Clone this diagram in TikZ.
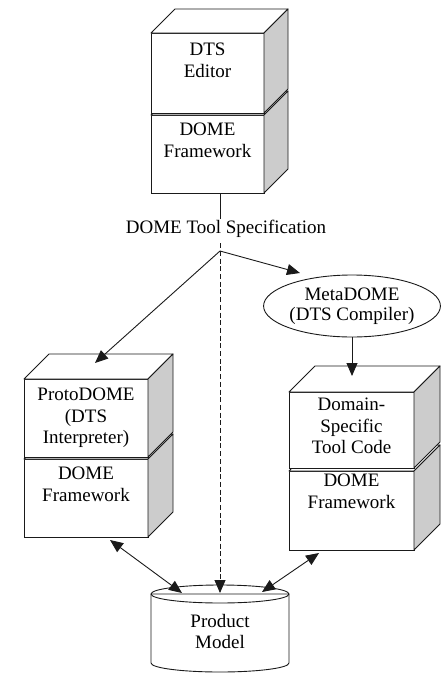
\documentclass[tikz,border=0pt]{standalone}
\usepackage{fontspec}
\setmainfont{Liberation Serif}
\usetikzlibrary{arrows.meta,shapes.geometric,calc}
\definecolor{sidegray}{HTML}{CCCCCC}
\definecolor{ink}{HTML}{1A1A1A}
\tikzset{
  face/.style={draw=ink, fill=white, inner sep=0pt, outer sep=0pt, line width=0.9pt},
  facepoly/.style={draw=ink, line width=0.9pt, line join=round},
  boxtext/.style={align=center, anchor=north, inner sep=0pt, font=\fontsize{19}{21.5}\selectfont},
  conn/.style={draw=ink, line width=0.9pt},
  tip/.style={-{Triangle[length=13pt,width=11pt]}},
  dtip/.style={{Triangle[length=13pt,width=11pt]}-{Triangle[length=13pt,width=11pt]}},
}
% #1 name, #2 x1, #3 y1, #4 x2, #5 y2, #6 depth
\newcommand\mkcube[6]{%
  \node[face, minimum width={(#4-#2)*1pt}, minimum height={(#5-#3)*1pt}] (#1) at ({(#2+#4)/2},{(#3+#5)/2}) {};
  \filldraw[facepoly, fill=white] (#1.north west) -- ++(#6,-#6) -- ($(#1.north east)+(#6,-#6)$) -- (#1.north east) -- cycle;
  \filldraw[facepoly, fill=sidegray] (#1.north east) -- ++(#6,-#6) -- ($(#1.south east)+(#6,-#6)$) -- (#1.south east) -- cycle;
}
\begin{document}
\begin{tikzpicture}[x=1pt, y=-1pt]
\useasboundingbox (0,0) rectangle (441,673);
% top stack
\mkcube{tfw}{151}{115}{264}{193}{24}
\mkcube{ted}{151}{33}{264}{113}{24}
\node[boxtext] (tedT) at (207.5,43) {DTS\\Editor};
\node[boxtext] (tfwT) at (207.5,123) {DOME\\Framework};
% left stack
\mkcube{lfw}{24}{459}{148}{537}{25}
\mkcube{lpd}{24}{379}{148}{457}{25}
\node[boxtext] (lpdT) at (86,388) {ProtoDOME\\(DTS\\Interpreter)};
\node[boxtext] (lfwT) at (86,467) {DOME\\Framework};
% right stack
\mkcube{rfw}{289}{471}{414}{550}{26}
\mkcube{rds}{289}{392}{414}{468}{26}
\node[boxtext] (rdsT) at (351.5,398) {Domain-\\Specific\\Tool Code};
\node[boxtext] (rfwT) at (351.5,474) {DOME\\Framework};
% MetaDOME ellipse
\node[ellipse, draw=ink, line width=0.9pt, minimum width=174pt, minimum height=62pt, inner sep=0pt,
      align=center, font=\fontsize{19}{20.5}\selectfont] (md) at (352,306) {MetaDOME\\(DTS Compiler)};
% spec label
\node[anchor=base, inner sep=0pt, font=\fontsize{19}{21.5}\selectfont] (spec) at (226,233) {DOME Tool Specification};
% cylinder
\filldraw[facepoly, fill=white] (151,594) -- (151,663) arc[start angle=180, end angle=360, x radius=69, y radius=-9] -- (289,594) -- cycle;
\draw[facepoly] (220,594) ellipse[x radius=69, y radius=9];
\node[boxtext] (pm) at (220,614) {Product\\Model};
% coordinates
\coordinate (j) at (220,251);
\coordinate (lin) at (95,363);
\coordinate (mdin) at (300,273);
\coordinate (rin) at (352,376);
\coordinate (lout) at (110,540);
\coordinate (pml) at (182,593);
\coordinate (pmc) at (220,593);
\coordinate (pmr) at (262,592);
\coordinate (rout) at (319,553);
% connectors
\draw[conn] (j |- tfw.south) -- (j |- spec.north);
\draw[conn, tip, dash pattern=on 5pt off 2.7pt] ($(j |- spec.south)+(0,6)$) -- (pmc);
\draw[conn, tip] (j) -- (lin);
\draw[conn, tip] (j) -- (mdin);
\draw[conn, tip] (md.south) -- (rin);
\draw[conn, dtip] (lout) -- (pml);
\draw[conn, dtip] (rout) -- (pmr);
\end{tikzpicture}
\end{document}
